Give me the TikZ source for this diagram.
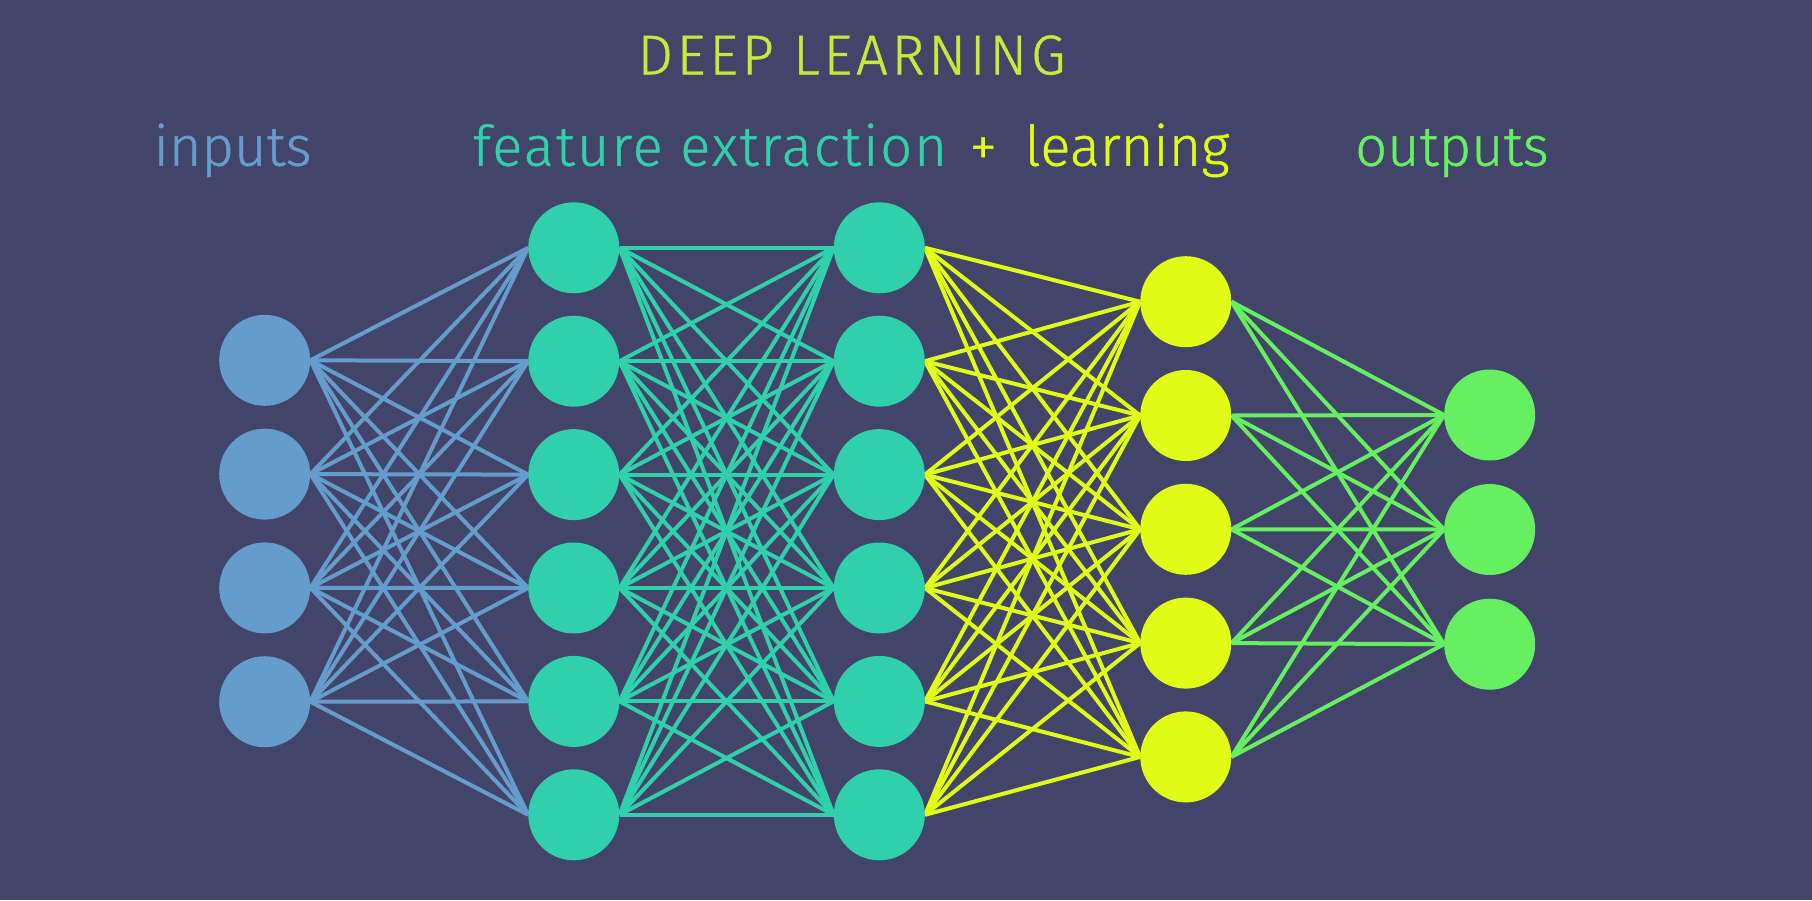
\documentclass[tikz,border=0pt]{standalone}
\usepackage{fontspec}
\setmainfont{Fira Sans}[UprightFont={* Light},FakeBold=0.8]
\definecolor{bg}{HTML}{434469}
\definecolor{cblue}{HTML}{649CCB}
\definecolor{cteal}{HTML}{30D0AC}
\definecolor{cyellow}{HTML}{E1FC16}
\definecolor{cgreen}{HTML}{66F061}
\definecolor{ctitle}{HTML}{C6E93A}
\pgfdeclarelayer{bgl}
\pgfdeclarelayer{edges}
\pgfsetlayers{bgl,edges,main}
\begin{document}
\begin{tikzpicture}[x=1pt,y=-1pt,
  neuron/.style={circle,minimum size=91pt,inner sep=0pt,draw=none},
  link/.style={line width=4pt},
  label/.style={inner sep=0pt,font=\fontsize{56}{60}\selectfont}]
\begin{pgfonlayer}{bgl}
\fill[bg] (0,0) rectangle (1812,900);
\end{pgfonlayer}
\useasboundingbox (0,0) rectangle (1812,900);
% layers
\foreach \i/\y in {1/360.3,2/474.1,3/587.9,4/701.7}
  \node[neuron,fill=cblue] (a\i) at (264.7,\y) {};
\foreach \i/\y in {1/247.8,2/361.2,3/474.6,4/588.0,5/701.4,6/814.8}
  \node[neuron,fill=cteal] (b\i) at (573.8,\y) {};
\foreach \i/\y in {1/247.8,2/361.2,3/474.6,4/588.0,5/701.4,6/814.8}
  \node[neuron,fill=cteal] (c\i) at (879.3,\y) {};
\foreach \i/\y in {1/301.7,2/415.5,3/529.3,4/643.1,5/756.9}
  \node[neuron,fill=cyellow] (d\i) at (1185.8,\y) {};
\foreach \i/\y in {1/415.0,2/529.5,3/644.2}
  \node[neuron,fill=cgreen] (e\i) at (1489.7,\y) {};
% connections
\begin{pgfonlayer}{edges}
\foreach \i in {1,...,4}
  \foreach \j in {1,...,6}
    \draw[link,cblue] (a\i.east) -- (b\j.west);
\foreach \i in {1,...,6}
  \foreach \j in {1,...,6}
    \draw[link,cteal] (b\i.east) -- (c\j.west);
\foreach \i in {1,...,6}
  \foreach \j in {1,...,5}
    \draw[link,cyellow] (c\i.east) -- (d\j.west);
\foreach \i in {1,...,5}
  \foreach \j in {1,...,3}
    \draw[link,cgreen] (d\i.east) -- (e\j.west);
\end{pgfonlayer}
% labels
\node[label,anchor=base,text=ctitle] (title) at (851.6,74.3) {\addfontfeature{LetterSpace=6.8}DEEP LEARNING};
\node[label,anchor=base west,text=cblue] (tin) at (153.5,165.7) {inputs};
\node[label,anchor=base west,text=cteal] (tfe) at (472.7,165.7) {\addfontfeature{LetterSpace=3.6}feature extraction};
\node[label,anchor=base,text=cyellow] (tplus) at (983.2,165.7) {+};
\node[label,anchor=base west,text=cyellow] (tlearn) at (1024.5,165.7) {learning};
\node[label,anchor=base west,text=cgreen] (tout) at (1355,165.7) {outputs};
\end{tikzpicture}
\end{document}
